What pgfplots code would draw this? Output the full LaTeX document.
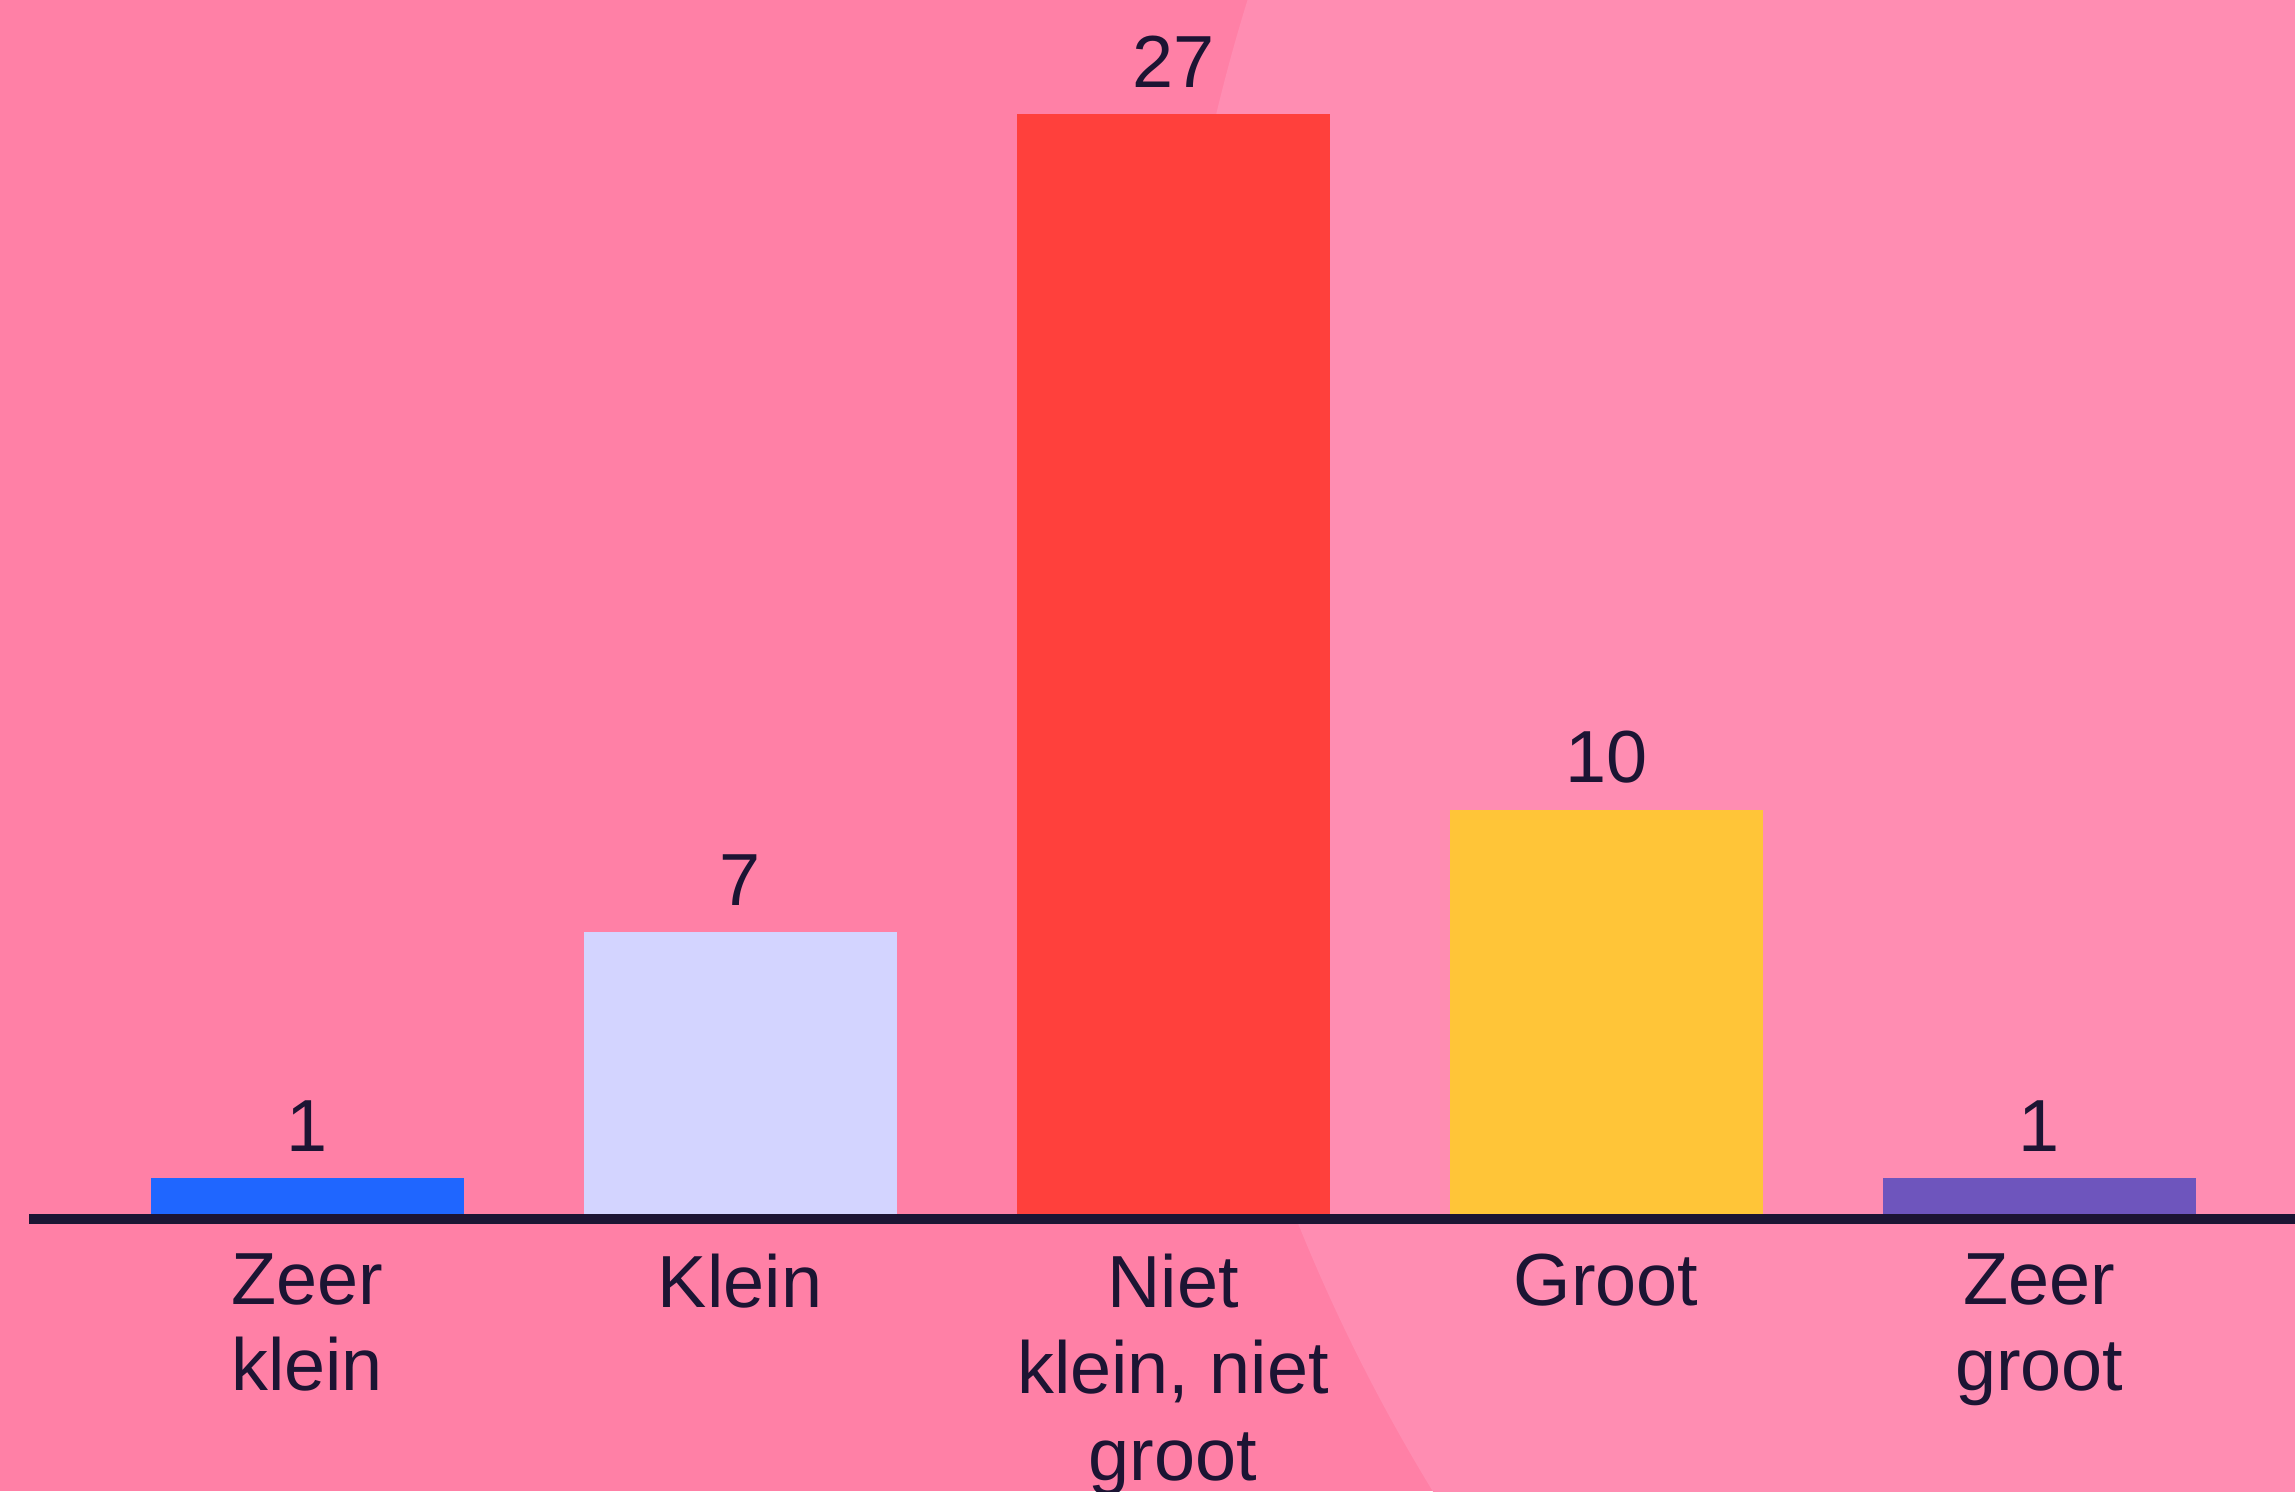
\documentclass[border=0pt]{standalone}
\usepackage{pgfplots}
\pgfplotsset{compat=1.18}
\usepackage{fontspec}
\setmainfont{Liberation Sans}
\definecolor{bgL}{HTML}{FF80A6}
\definecolor{bgR}{HTML}{FF8DB2}
\definecolor{cBlue}{HTML}{1F66FF}
\definecolor{cLav}{HTML}{D3D4FF}
\definecolor{cRed}{HTML}{FF403C}
\definecolor{cYel}{HTML}{FFC538}
\definecolor{cPur}{HTML}{6E55BD}
\definecolor{ink}{HTML}{1C1433}
\begin{document}
\begin{tikzpicture}[x=1cm,y=1cm]
\useasboundingbox (0,0) rectangle (22.95,14.91);
\clip (0,0) rectangle (22.95,14.91);
\fill[bgL] (0,0) rectangle (22.95,14.91);
\fill[bgR] (29.918,9.503) circle (18.257);
\begin{axis}[
  at={(0.29cm,2.72cm)}, anchor=south west,
  scale only axis, width=22.66cm, height=12.19cm,
  xmin=-0.642, xmax=4.591, ymin=0, ymax=29.78,
  axis x line*=bottom, axis y line=none,
  x axis line style={line width=2.8pt, color=ink},
  ybar, bar width=3.13cm, bar shift=0pt,
  xtick={0,1,2,3,4},
  xticklabels={{Zeer\\klein},{Klein},{Niet\\klein, niet\\groot},{Groot},{Zeer\\groot}},
  major tick length=0pt,
  xticklabel style={align=center, font=\fontsize{21}{24.6}\selectfont, text=ink, inner sep=0pt, yshift=-3.4mm},
  /pgf/number format/assume math mode=true,
  nodes near coords,
  every node near coord/.append style={font=\fontsize{21}{24.6}\selectfont, text=ink, inner sep=0pt, yshift=7.4pt},
  axis on top,
  clip=false,
]
\addplot[fill=cBlue, draw=none] coordinates {(0,1)};
\addplot[fill=cLav, draw=none] coordinates {(1,7)};
\addplot[fill=cRed, draw=none] coordinates {(2,27)};
\addplot[fill=cYel, draw=none] coordinates {(3,10)};
\addplot[fill=cPur, draw=none] coordinates {(4,1)};
\end{axis}
\end{tikzpicture}
\end{document}
